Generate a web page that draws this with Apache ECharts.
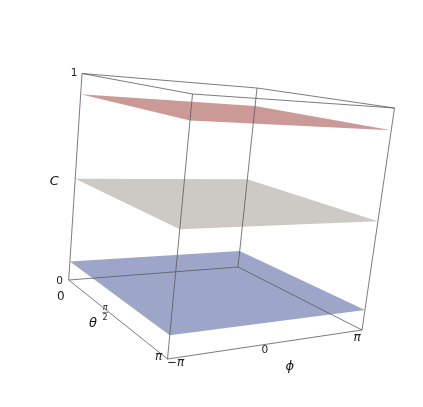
<!DOCTYPE html>
<html>
<head>
<meta charset="utf-8">
<style>
  html, body { margin: 0; padding: 0; background: #fff; }
  #chart { width: 423px; height: 407px; }
</style>
<script src="https://cdn.jsdelivr.net/npm/echarts@6/dist/echarts.min.js"></script>
</head>
<body>
<div id="chart"></div>
<script>
const PI = Math.PI;
const thetaRange = [0, PI];
const phiRange = [-PI, PI];
const cRange = [0, 1];

// the three flat surfaces
const planeLevels = [0.09, 0.49, 0.9];
const planeColors = ["#9da6c9", "#cdcac5", "#cc9a96"];

const tickLabels = ["0", "1", "0", "\u03c0", "\u2212\u03c0", "0", "\u03c0"];
const axisNames = ["C", "\u03b8", "\u03d5"];

// where the box corners land in the picture, [theta, phi] -> [bottom, top]
const boxView = {
  "0,0": [[68.7, 280], [82, 73.5]],
  "1,0": [[167.5, 359], [192.5, 94]],
  "1,1": [[362, 330], [394.5, 108]],
  "0,1": [[238, 267], [257, 88]],
};

function project(theta, phi, c) {
  const t = (theta - thetaRange[0]) / (thetaRange[1] - thetaRange[0]);
  const p = (phi - phiRange[0]) / (phiRange[1] - phiRange[0]);
  const h = (c - cRange[0]) / (cRange[1] - cRange[0]);
  const at = (i) => {
    const a = boxView["0,0"], b = boxView["1,0"], d = boxView["1,1"], e = boxView["0,1"];
    const lo = (1 - t) * (1 - p) * a[0][i] + t * (1 - p) * b[0][i] + t * p * d[0][i] + (1 - t) * p * e[0][i];
    const hi = (1 - t) * (1 - p) * a[1][i] + t * (1 - p) * b[1][i] + t * p * d[1][i] + (1 - t) * p * e[1][i];
    return (1 - h) * lo + h * hi;
  };
  return [at(0), at(1)];
}

// 12 edges of the box
const edges = [];
[cRange[0], cRange[1]].forEach((c) => {
  edges.push([[thetaRange[0], phiRange[0], c], [thetaRange[1], phiRange[0], c]]);
  edges.push([[thetaRange[1], phiRange[0], c], [thetaRange[1], phiRange[1], c]]);
  edges.push([[thetaRange[1], phiRange[1], c], [thetaRange[0], phiRange[1], c]]);
  edges.push([[thetaRange[0], phiRange[1], c], [thetaRange[0], phiRange[0], c]]);
});
thetaRange.forEach((th) => {
  phiRange.forEach((ph) => {
    edges.push([[th, ph, cRange[0]], [th, ph, cRange[1]]]);
  });
});

// label anchor on the box + offset in px
const labels = [
  { text: tickLabels[0], at: [0, -PI, 0], dx: -9, dy: 1, size: 10.5, italic: false },
  { text: tickLabels[1], at: [0, -PI, 1], dx: -8, dy: 0, size: 10.5, italic: false },
  { text: tickLabels[2], at: [0, -PI, 0], dx: -8, dy: 17, size: 12, italic: false },
  { text: tickLabels[3], at: [PI, -PI, 0], dx: -9, dy: -2, size: 12, italic: true },
  { text: tickLabels[4], at: [PI, -PI, 0], dx: 8, dy: 4, size: 12, italic: true },
  { text: tickLabels[5], at: [0, 0, 0], dx: -999, dy: 0, size: 10.5, italic: false },
  { text: tickLabels[6], at: [PI, PI, 0], dx: -5, dy: 8, size: 12, italic: true },
];
labels[5].at = [PI, 0, 0];
labels[5].dx = 0;
labels[5].dy = 6;

const nameLabels = [
  { text: axisNames[0], at: [0, -PI, 0.49], dx: -21, dy: 3 },
  { text: axisNames[1], at: [PI / 2, -PI, 0], dx: -25, dy: 4.5 },
  { text: axisNames[2], at: [PI, 0, 0], dx: 25, dy: 22 },
];

const chart = echarts.init(document.getElementById("chart"), null, { renderer: "canvas" });

const options = {
  animation: false,
  backgroundColor: "#fff",
  grid: { left: 0, right: 0, top: 0, bottom: 0 },
  xAxis: { type: "value", min: 0, max: 423, show: false },
  yAxis: { type: "value", min: 0, max: 407, inverse: true, show: false },
  series: [
    {
      // surfaces
      type: "custom",
      coordinateSystem: "cartesian2d",
      z: 2,
      data: planeLevels.map((c, i) => [c, i]),
      renderItem(params, api) {
        const c = api.value(0);
        const corners = [
          [thetaRange[0], phiRange[0]],
          [thetaRange[1], phiRange[0]],
          [thetaRange[1], phiRange[1]],
          [thetaRange[0], phiRange[1]],
        ];
        return {
          type: "polygon",
          shape: { points: corners.map((k) => api.coord(project(k[0], k[1], c))) },
          style: { fill: planeColors[api.value(1)] },
        };
      },
    },
    {
      // box edges
      type: "custom",
      coordinateSystem: "cartesian2d",
      z: 3,
      data: edges.map((e, i) => [i]),
      renderItem(params, api) {
        const e = edges[api.value(0)];
        const a = api.coord(project(e[0][0], e[0][1], e[0][2]));
        const b = api.coord(project(e[1][0], e[1][1], e[1][2]));
        return {
          type: "line",
          shape: { x1: a[0], y1: a[1], x2: b[0], y2: b[1] },
          style: { stroke: "#5a5a5a", lineWidth: 0.8 },
        };
      },
    },
    {
      // tick labels
      type: "custom",
      coordinateSystem: "cartesian2d",
      z: 4,
      data: labels.map((l, i) => [i]),
      renderItem(params, api) {
        const l = labels[api.value(0)];
        const p = api.coord(project(l.at[0], l.at[1], l.at[2]));
        return {
          type: "text",
          style: {
            x: p[0] + l.dx,
            y: p[1] + l.dy,
            text: l.text,
            fill: "#222",
            align: "center",
            verticalAlign: "middle",
            font: (l.italic ? "italic " : "") + l.size + 'px "DejaVu Sans"',
          },
        };
      },
    },
    {
      // theta pi/2 tick, written as a fraction
      type: "custom",
      coordinateSystem: "cartesian2d",
      z: 4,
      data: [[PI / 2]],
      renderItem(params, api) {
        const p = api.coord(project(api.value(0), -PI, 0));
        const x = p[0] - 13;
        const y = p[1] - 7;
        const font = 'italic 8px "DejaVu Sans"';
        return {
          type: "group",
          children: [
            { type: "text", style: { x, y: y - 4.5, text: "\u03c0", font, fill: "#222", align: "center", verticalAlign: "middle" } },
            { type: "line", shape: { x1: x - 3, y1: y, x2: x + 3, y2: y }, style: { stroke: "#444", lineWidth: 0.6 } },
            { type: "text", style: { x, y: y + 5.5, text: "2", font: '8px "DejaVu Sans"', fill: "#222", align: "center", verticalAlign: "middle" } },
          ],
        };
      },
    },
    {
      // axis names
      type: "custom",
      coordinateSystem: "cartesian2d",
      z: 4,
      data: nameLabels.map((l, i) => [i]),
      renderItem(params, api) {
        const l = nameLabels[api.value(0)];
        const p = api.coord(project(l.at[0], l.at[1], l.at[2]));
        return {
          type: "text",
          style: {
            x: p[0] + l.dx,
            y: p[1] + l.dy,
            text: l.text,
            fill: "#111",
            align: "center",
            verticalAlign: "middle",
            font: 'italic 13px "DejaVu Sans"',
          },
        };
      },
    },
  ],
};

chart.setOption(options);
</script>
</body>
</html>
